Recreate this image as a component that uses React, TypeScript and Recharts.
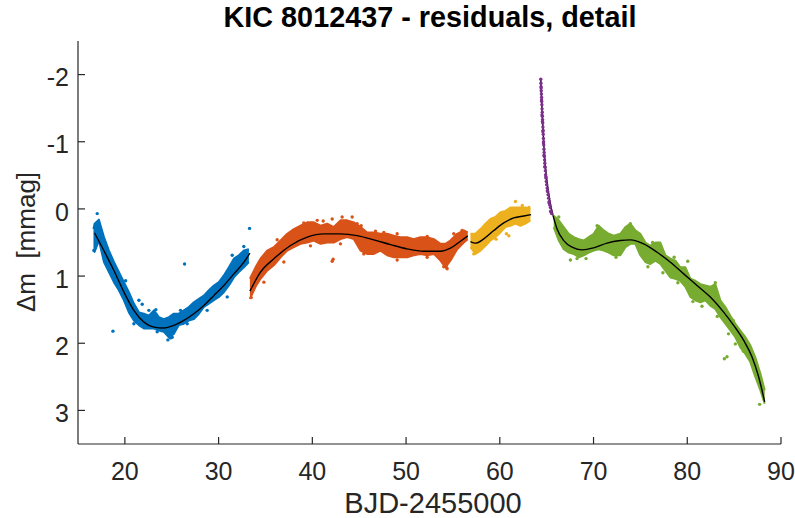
import { ComposedChart, Area, Line, Scatter, XAxis, YAxis } from "recharts";

const W = 795;
const H = 518;
const PLOT_LEFT = 78;
const PLOT_RIGHT = 781;
const PLOT_TOP = 41;
const PLOT_BOTTOM = 444;
const AX = "#262626";
const FONT = "'Liberation Sans', Arial, Helvetica, sans-serif";

const X_TICKS = [20, 30, 40, 50, 60, 70, 80, 90];
const Y_TICKS = [-2, -1, 0, 1, 2, 3];

const BLUE = "#0072BD";
const ORANGE = "#D95319";
const YELLOW = "#EDB120";
const PURPLE = "#7E2F8E";
const GREEN = "#77AC30";

// dense point clouds: [BJD, upper edge, lower edge] in mmag
const blueBand = [
  [16.65, 0.3, 0.6], [16.77, 0.22, 0.64], [17.23, 0.16, 0.47], [17.77, 0.42, 0.79], [18.3, 0.62, 0.94],
  [18.83, 0.79, 1.09], [19.36, 0.94, 1.21], [19.9, 1.09, 1.36], [20.43, 1.24, 1.54], [20.96, 1.41, 1.66],
  [21.5, 1.54, 1.73], [22.03, 1.56, 1.78], [22.56, 1.59, 1.78], [23.1, 1.51, 1.78], [23.63, 1.61, 1.81],
  [24.16, 1.64, 1.83], [24.7, 1.61, 1.91], [25.23, 1.56, 1.86], [25.76, 1.56, 1.73], [26.3, 1.51, 1.71],
  [26.83, 1.46, 1.66], [27.36, 1.39, 1.64], [27.9, 1.34, 1.56], [28.43, 1.29, 1.46], [28.96, 1.21, 1.41],
  [29.5, 1.14, 1.36], [30.03, 1.09, 1.31], [30.56, 0.99, 1.24], [31.1, 0.87, 1.14], [31.63, 0.74, 1.02],
  [32.16, 0.69, 0.94], [32.7, 0.62, 0.87], [33.23, 0.6, 0.79],
];
const orangeBand = [
  [33.34, 1.04, 1.34], [33.94, 0.87, 1.16], [34.47, 0.74, 1.04], [35.18, 0.62, 0.92], [35.89, 0.57, 0.84],
  [36.61, 0.47, 0.72], [37.32, 0.37, 0.62], [38.03, 0.3, 0.57], [38.74, 0.25, 0.52], [39.45, 0.2, 0.5],
  [40.16, 0.2, 0.47], [40.87, 0.25, 0.52], [41.58, 0.22, 0.5], [42.29, 0.27, 0.5], [43.0, 0.17, 0.45],
  [43.72, 0.17, 0.42], [44.43, 0.2, 0.45], [45.14, 0.27, 0.62], [45.85, 0.35, 0.67], [46.56, 0.35, 0.67],
  [47.27, 0.37, 0.62], [47.98, 0.37, 0.69], [48.69, 0.4, 0.72], [49.4, 0.42, 0.72], [50.11, 0.42, 0.72],
  [50.82, 0.45, 0.69], [51.54, 0.42, 0.67], [52.25, 0.42, 0.69], [52.96, 0.45, 0.67], [53.67, 0.52, 0.77],
  [54.2, 0.52, 0.87], [54.73, 0.47, 0.77], [55.45, 0.37, 0.6], [56.16, 0.32, 0.5], [56.58, 0.35, 0.45],
];
const yellowBand = [
  [56.87, 0.37, 0.57], [57.4, 0.37, 0.67], [57.94, 0.3, 0.62], [58.47, 0.22, 0.55], [59.0, 0.15, 0.47],
  [59.53, 0.12, 0.42], [60.07, 0.05, 0.35], [60.6, 0.03, 0.27], [61.13, -0.02, 0.25], [61.67, -0.02, 0.22],
  [62.2, -0.02, 0.25], [62.73, -0.02, 0.22], [63.27, 0.0, 0.17],
];
const greenBand = [
  [65.75, 0.1, 0.27], [66.29, 0.17, 0.47], [66.82, 0.27, 0.6], [67.36, 0.37, 0.65], [67.89, 0.42, 0.67],
  [68.42, 0.45, 0.72], [68.96, 0.47, 0.69], [69.49, 0.42, 0.65], [70.02, 0.37, 0.62], [70.55, 0.25, 0.6],
  [71.09, 0.32, 0.62], [71.62, 0.37, 0.65], [72.15, 0.4, 0.69], [72.86, 0.37, 0.69], [73.4, 0.27, 0.57],
  [73.93, 0.22, 0.52], [74.46, 0.32, 0.52], [74.99, 0.37, 0.69], [75.53, 0.5, 0.79], [76.06, 0.55, 0.82],
  [76.6, 0.5, 0.77], [77.13, 0.5, 0.82], [77.66, 0.69, 0.92], [78.2, 0.74, 1.02], [78.73, 0.77, 1.04],
  [79.26, 0.87, 1.07], [79.8, 0.87, 1.16], [80.33, 1.04, 1.31], [80.86, 1.07, 1.36], [81.4, 1.12, 1.39],
  [81.93, 1.14, 1.36], [82.46, 1.16, 1.44], [82.99, 1.12, 1.49], [83.53, 1.36, 1.61], [84.06, 1.46, 1.71],
  [84.6, 1.59, 1.81], [85.13, 1.71, 1.91], [85.66, 1.81, 2.06], [86.2, 1.91, 2.16], [86.73, 2.03, 2.28],
  [87.26, 2.21, 2.5], [87.8, 2.45, 2.7], [88.26, 2.7, 2.9],
];

// loose points around the clouds: [BJD, mmag]
const blueLoose = [
  [17.05, 0.07], [33.3, 0.29], [26.37, 0.82], [18.73, 1.82], [21.85, 1.42], [23.31, 1.5],
  [31.45, 0.69], [32.69, 0.56], [24.59, 1.95], [25.05, 1.91], [16.7, 0.62], [19.54, 1.04],
  [20.08, 1.07], [21.5, 1.36], [22.56, 1.51], [25.94, 1.51], [27.01, 1.46], [28.07, 1.36],
  [30.21, 1.09], [30.92, 0.94], [31.98, 0.74], [33.05, 0.62], [20.96, 1.71], [23.45, 1.83],
  [24.87, 1.92], [26.65, 1.71], [28.78, 1.51], [30.92, 1.31],
];
const orangeLoose = [
  [38.21, 0.31], [42.12, 0.15], [43.18, 0.12], [44.25, 0.12], [42.12, 0.78], [42.22, 0.75],
  [54.31, 0.87], [45.21, 0.25], [33.48, 1.32], [40.09, 0.25], [41.16, 0.18], [43.79, 0.23],
  [47.63, 0.35], [54.02, 0.86], [55.98, 0.32], [36.25, 0.46], [39.09, 0.21], [40.52, 0.17],
  [44.78, 0.22], [46.74, 0.33], [49.05, 0.37], [52.25, 0.41], [55.09, 0.37], [34.83, 1.09],
  [36.96, 0.79], [39.8, 0.55], [43.0, 0.52], [45.49, 0.67], [49.05, 0.76], [52.25, 0.72],
  [54.38, 0.89],
];
const yellowLoose = [
  [60.96, 0.4], [63.09, -0.02], [57.22, 0.67], [61.67, -0.11], [60.7, 0.37], [58.8, 0.2],
  [62.4, -0.05], [59.6, 0.45],
];
const purplePoints = [
  [64.37, -1.93], [64.39, -1.87], [64.4, -1.82], [64.42, -1.76], [64.44, -1.71], [64.46, -1.66],
  [64.47, -1.6], [64.49, -1.55], [64.51, -1.49], [64.53, -1.44], [64.54, -1.38], [64.56, -1.33],
  [64.58, -1.28], [64.6, -1.22], [64.62, -1.17], [64.64, -1.11], [64.65, -1.05], [64.67, -1.0],
  [64.69, -0.95], [64.71, -0.89], [64.73, -0.84], [64.75, -0.78], [64.78, -0.73], [64.8, -0.68],
  [64.83, -0.62], [64.86, -0.57], [64.89, -0.51], [64.92, -0.46], [64.96, -0.41], [65.0, -0.36],
  [65.05, -0.31], [65.1, -0.26], [65.15, -0.21], [65.21, -0.16], [65.27, -0.11], [65.33, -0.06],
  [65.4, -0.02], [65.47, 0.03], [65.53, 0.07], [64.41, -1.8], [64.45, -1.62], [64.5, -1.4],
  [64.55, -1.3], [64.6, -1.15], [64.66, -0.98], [64.72, -0.8], [64.8, -0.63], [64.92, -0.48],
  [65.08, -0.27], [65.25, -0.09], [65.42, 0.04],
];
const greenLoose = [
  [67.53, 0.76], [68.24, 0.74], [66.29, 0.12], [70.38, 0.25], [73.93, 0.22], [80.05, 0.78],
  [81.57, 1.45], [82.99, 1.1], [83.96, 2.23], [84.24, 2.2], [87.72, 2.91], [85.13, 2.01],
  [69.2, 0.74], [72.4, 0.72], [75.8, 0.86], [77.4, 0.95], [79.0, 1.1], [80.6, 1.38],
  [83.2, 1.6], [84.4, 1.86], [86.0, 2.12], [76.3, 0.5], [78.6, 0.72], [84.9, 1.66],
];

// polynomial fits: [BJD, mmag]
const blueFit = [
  [16.77, 0.357], [17.94, 0.669], [18.83, 0.917], [19.9, 1.239], [20.96, 1.511], [22.03, 1.685],
  [23.1, 1.759], [24.16, 1.774], [25.23, 1.734], [26.3, 1.66], [27.36, 1.561], [28.43, 1.437],
  [29.5, 1.288], [30.56, 1.14], [31.63, 0.967], [32.7, 0.793], [33.34, 0.659],
];
const orangeFit = [
  [33.34, 1.224], [34.47, 0.942], [35.89, 0.743], [37.67, 0.545], [39.45, 0.421], [41.23, 0.372],
  [43.0, 0.372], [44.78, 0.397], [46.56, 0.461], [48.34, 0.531], [50.11, 0.595], [51.89, 0.63],
  [53.67, 0.63], [54.74, 0.585], [55.8, 0.481], [56.58, 0.402],
];
const yellowFit = [
  [56.87, 0.486], [57.4, 0.51], [58.29, 0.446], [59.36, 0.322], [60.42, 0.208], [61.49, 0.134],
  [62.56, 0.105], [63.34, 0.085],
];
const purpleFit = [
  [64.37, -1.93], [64.51, -1.46], [64.69, -0.965], [64.87, -0.62], [65.12, -0.32], [65.4, -0.074],
  [65.68, 0.1],
];
const greenFit = [
  [65.68, 0.1], [66.11, 0.298], [66.82, 0.471], [67.71, 0.57], [68.78, 0.61], [70.02, 0.58],
  [71.44, 0.51], [72.86, 0.471], [73.93, 0.461], [75.35, 0.521], [76.78, 0.645], [78.2, 0.793],
  [79.62, 0.967], [81.04, 1.14], [82.46, 1.313], [83.88, 1.536], [84.95, 1.734], [86.02, 1.957],
  [86.91, 2.205], [87.62, 2.502], [88.26, 2.873],
];

const toBand = (rows: number[][]) => rows.map(([x, lo, hi]) => ({ x, band: [lo, hi] }));
const toPts = (rows: number[][]) => rows.map(([x, y]) => ({ x, y }));

const bands = [
  { data: toBand(blueBand), color: BLUE },
  { data: toBand(orangeBand), color: ORANGE },
  { data: toBand(yellowBand), color: YELLOW },
  { data: toBand(greenBand), color: GREEN },
];
const loose = [
  { data: toPts(blueLoose), color: BLUE },
  { data: toPts(orangeLoose), color: ORANGE },
  { data: toPts(yellowLoose), color: YELLOW },
  { data: toPts(purplePoints), color: PURPLE },
  { data: toPts(greenLoose), color: GREEN },
];
const fits = [blueFit, orangeFit, yellowFit, purpleFit, greenFit].map(toPts);

const dot = (color: string) => (p: any) => <circle cx={p.cx} cy={p.cy} r={1.7} fill={color} />;

const BottomTick = ({ x, payload }: any) => (
  <g>
    <line x1={x} x2={x} y1={PLOT_BOTTOM} y2={PLOT_BOTTOM - 7} stroke={AX} strokeWidth={1.2} />
    <text x={x} y={480} textAnchor="middle" fontSize={25} fill={AX} fontFamily={FONT}>
      {payload.value}
    </text>
  </g>
);
const TopTick = ({ x }: any) => (
  <line x1={x} x2={x} y1={PLOT_TOP} y2={PLOT_TOP + 7} stroke={AX} strokeWidth={1.2} />
);
const LeftTick = ({ y, payload }: any) => (
  <g>
    <line x1={PLOT_LEFT} x2={PLOT_LEFT + 7} y1={y} y2={y} stroke={AX} strokeWidth={1.2} />
    <text x={69} y={y + 11.7} textAnchor="end" fontSize={25} fill={AX} fontFamily={FONT}>
      {payload.value}
    </text>
  </g>
);
const RightTick = ({ y }: any) => (
  <line x1={PLOT_RIGHT} x2={PLOT_RIGHT - 7} y1={y} y2={y} stroke={AX} strokeWidth={1.2} />
);

export default function App() {
  return (
    <div style={{ position: "absolute", left: 0, top: 0, width: W, height: H, background: "#fff" }}>
      <ComposedChart
        width={W}
        height={H}
        margin={{ top: PLOT_TOP, right: W - PLOT_RIGHT, bottom: 24, left: PLOT_LEFT - 60 }}
      >
        <XAxis
          dataKey="x"
          type="number"
          domain={[15, 90]}
          ticks={X_TICKS}
          interval={0}
          allowDataOverflow
          height={50}
          tickLine={false}
          axisLine={{ stroke: AX, strokeWidth: 1.2 }}
          tick={BottomTick}
        />
        <XAxis
          xAxisId="top"
          orientation="top"
          dataKey="x"
          type="number"
          domain={[15, 90]}
          ticks={X_TICKS}
          interval={0}
          height={0}
          tickLine={false}
          axisLine={{ stroke: AX, strokeWidth: 1.2 }}
          tick={TopTick}
        />
        <YAxis
          type="number"
          domain={[-2.5, 3.5]}
          ticks={Y_TICKS}
          interval={0}
          reversed
          allowDataOverflow
          width={60}
          tickLine={false}
          axisLine={{ stroke: AX, strokeWidth: 1.2 }}
          tick={LeftTick}
        />
        <YAxis
          yAxisId="right"
          orientation="right"
          type="number"
          domain={[-2.5, 3.5]}
          ticks={Y_TICKS}
          interval={0}
          reversed
          width={0}
          tickLine={false}
          axisLine={{ stroke: AX, strokeWidth: 1.2 }}
          tick={RightTick}
        />
        {bands.map((b, i) => (
          <Area
            key={"band" + i}
            data={b.data}
            dataKey="band"
            type="linear"
            stroke={b.color}
            strokeWidth={2}
            strokeLinejoin="round"
            fill={b.color}
            fillOpacity={1}
            dot={false}
            activeDot={false}
            isAnimationActive={false}
          />
        ))}
        {loose.map((s, i) => (
          <Scatter key={"pts" + i} data={s.data} dataKey="y" shape={dot(s.color)} isAnimationActive={false} />
        ))}
        {fits.map((f, i) => (
          <Line
            key={"fit" + i}
            data={f}
            dataKey="y"
            type="monotone"
            stroke="#000"
            strokeWidth={1.4}
            dot={false}
            activeDot={false}
            isAnimationActive={false}
          />
        ))}
      </ComposedChart>
      <svg
        width={W}
        height={H}
        style={{ position: "absolute", left: 0, top: 0, pointerEvents: "none" }}
        fontFamily={FONT}
      >
        <text x={430} y={27} textAnchor="middle" fontSize={28.8} fontWeight="bold" fill="#000">
          KIC 8012437 - residuals, detail
        </text>
        <text x={433} y={513} textAnchor="middle" fontSize={29} fill={AX}>
          BJD-2455000
        </text>
        <text
          x={35}
          y={242}
          textAnchor="middle"
          fontSize={26}
          fill={AX}
          transform="rotate(-90 35 242)"
          style={{ whiteSpace: "pre" }}
        >
          {"\u0394m  [mmag]"}
        </text>
      </svg>
    </div>
  );
}
